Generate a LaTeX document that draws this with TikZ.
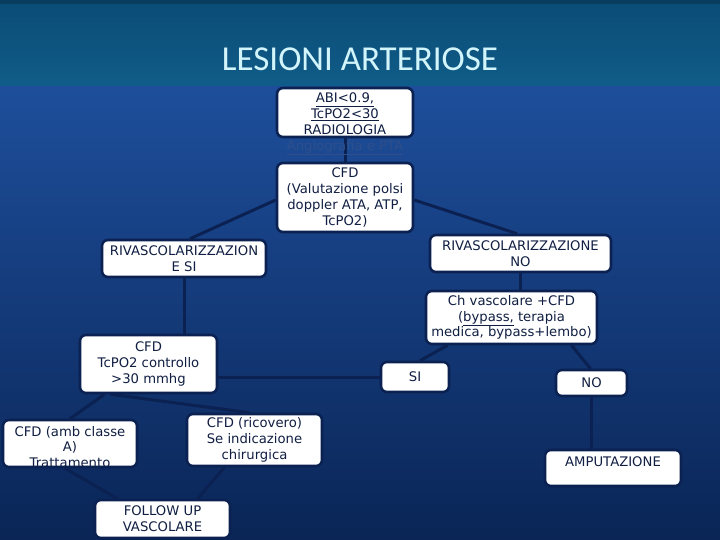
\documentclass[tikz,border=0pt]{standalone}
\usepackage{fontspec}
\newfontfamily\boxfont{DejaVu Sans}
\newfontfamily\titlefont{Carlito}
\definecolor{navy}{HTML}{0B2152}
\definecolor{txtc}{HTML}{101E42}
\definecolor{titlec}{HTML}{D2F5FB}
\definecolor{linkc}{HTML}{2E4F8C}
\definecolor{bandtop}{HTML}{0A4C76}
\definecolor{bandbot}{HTML}{105C88}
\definecolor{maintop}{HTML}{1E4F9C}
\definecolor{mainmid}{HTML}{1D4C97}
\definecolor{mainbot}{HTML}{0A2556}
\pgfdeclarelayer{back}
\pgfdeclarelayer{mid}
\pgfsetlayers{back,mid,main}
\tikzset{
  box/.style={draw=navy, line width=2.6bp, fill=white, rounded corners=6bp,
    inner sep=0pt, align=center, text=txtc,
    font=\boxfont\fontsize{13.2bp}{15.8bp}\selectfont},
  boxtext/.style={inner sep=0pt, align=center, text=txtc,
    font=\boxfont\fontsize{13.2bp}{15.8bp}\selectfont},
  conn/.style={draw=navy, line width=3bp}
}
\begin{document}
\begin{tikzpicture}[x=1bp,y=-1bp]
\useasboundingbox (0,0) rectangle (720,540);
% background
\begin{pgfonlayer}{back}
\shade[top color=maintop, middle color=mainmid, bottom color=mainbot] (0,80) rectangle (720,540);
\shade[top color=bandtop, bottom color=bandbot] (0,0) rectangle (720,86);
\fill[bandtop!80!black] (0,0) rectangle (720,4);
\end{pgfonlayer}
% title
\node[text=titlec, font=\titlefont\fontsize{35bp}{40bp}\selectfont, inner sep=0pt] (title) at (360,59) {LESIONI ARTERIOSE};

% boxes
\node[box, minimum width=136bp, minimum height=49bp] (abi) at (345,112.5) {};
\node[boxtext, anchor=north] (abitxt) at (345,93) {\underline{ABI<0.9,}\\\underline{TcPO2<30}\\RADIOLOGIA\\\textcolor{linkc}{\underline{Angiografia e PTA}}};
\node[box, minimum width=136bp, minimum height=69bp] (cfd) at (345,197.5) {CFD\\(Valutazione polsi\\doppler ATA, ATP,\\TcPO2)};
\node[box, minimum width=164bp, minimum height=37bp] (rsi) at (184,258.5) {RIVASCOLARIZZAZION\\E SI};
\node[box, minimum width=181bp, minimum height=37bp] (rno) at (520.5,253.5) {RIVASCOLARIZZAZIONE\\NO};
\node[box, minimum width=171bp, minimum height=53bp] (ch) at (511.5,317.5) {Ch vascolare +CFD\\(\underline{bypass,} terapia\\medica, bypass+lembo)};
\node[box, minimum width=137bp, minimum height=58bp] (tc) at (148.5,364) {CFD\\TcPO2 controllo\\>30 mmhg};
\node[box, minimum width=68bp, minimum height=30bp] (si) at (415,377) {SI};
\node[box, minimum width=71bp, minimum height=26bp] (no) at (591.5,383) {NO};
\node[box, minimum width=134bp, minimum height=47bp] (amb) at (70,443.5) {};
\begin{scope}
  \clip[rounded corners=5bp] (4.5,421.5) rectangle (135.5,465.5);
  \node[boxtext] (ambtxt) at (70,447) {CFD (amb classe\\A)\\Trattamento};
\end{scope}
\node[box, minimum width=135bp, minimum height=52bp] (ric) at (254.5,440) {CFD (ricovero)\\Se indicazione\\chirurgica};
\node[box, minimum width=136bp, minimum height=36bp] (amp) at (613,468) {};
\node[boxtext] (amptxt) at (613,462) {AMPUTAZIONE};
\node[box, minimum width=135bp, minimum height=38bp] (fu) at (162.5,519) {FOLLOW UP\\VASCOLARE};

% connectors
\begin{pgfonlayer}{mid}
\draw[conn] (abi.south) -- (cfd.north);
\draw[conn] ([yshift=-2.5bp]cfd.west) -- ([xshift=6bp]rsi.north);
\draw[conn] ([yshift=-2.5bp]cfd.east) -- ([xshift=-3.5bp]rno.north);
\draw[conn] (rsi.south) -- (rsi.south |- tc.north);
\draw[conn] (rno.south) -- (rno.south |- ch.north);
\draw[conn] ([xshift=-64bp]ch.south) -- ([xshift=5bp]si.north);
\draw[conn] ([xshift=60bp]ch.south) -- ([xshift=-1bp]no.north);
\draw[conn] (si.west -| tc.east) -- (si.west);
\draw[conn] (no.south) -- (no.south |- amp.north);
\draw[conn] ([xshift=-44bp]tc.south) -- (amb.north);
\draw[conn] ([xshift=-38bp]tc.south) -- ([xshift=-5bp]ric.north);
\draw[conn] ([xshift=-5bp]amb.south) -- ([xshift=-45bp]fu.north);
\draw[conn] ([xshift=-30bp]ric.south) -- ([xshift=35bp]fu.north);
\end{pgfonlayer}
\end{tikzpicture}
\end{document}
